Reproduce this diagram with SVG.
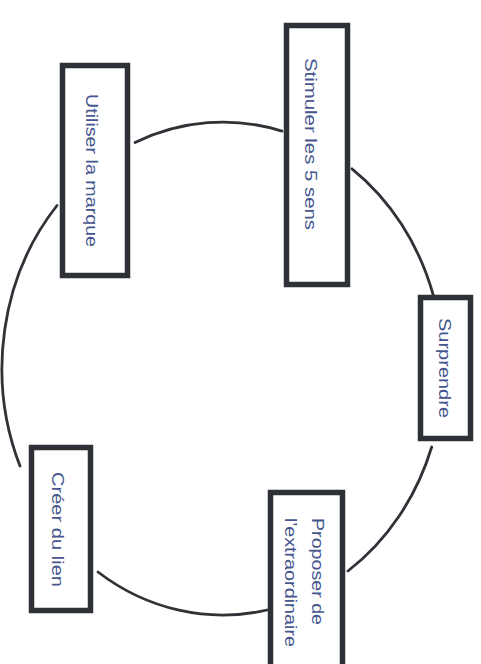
<svg xmlns="http://www.w3.org/2000/svg" width="481" height="664" viewBox="0 0 481 664">
<style>
.box{fill:#fff;stroke:#2e3136;stroke-width:5.5}
.lbl{font-family:"Liberation Sans",Arial,sans-serif;font-size:16px;fill:#46568e}
.arc{fill:none;stroke:#2f3237;stroke-width:2.8;stroke-linecap:round}
</style>
<rect width="481" height="664" fill="#fff"/>
<g id="connectors">
<path class="arc" d="M135,142.5 A220.6,246.5 0 0,1 282,131.1"/>
<path class="arc" d="M352,168.8 A220.6,246.5 0 0,1 433.2,295"/>
<path class="arc" d="M431.7,447 A220.6,246.5 0 0,1 348,571"/>
<path class="arc" d="M267,610 A220.6,246.5 0 0,1 98,572"/>
<path class="arc" d="M20,466 A220.6,246.5 0 0,1 57,205.5"/>
</g>
<g id="node-utiliser">
<rect class="box" x="62.5" y="65.5" width="65" height="210"/>
<text class="lbl" transform="translate(86,94) rotate(90)" textLength="153" lengthAdjust="spacingAndGlyphs">Utiliser la marque</text>
</g>
<g id="node-stimuler">
<rect class="box" x="286.5" y="25.5" width="61" height="259"/>
<text class="lbl" transform="translate(305,58) rotate(90)" textLength="172" lengthAdjust="spacingAndGlyphs">Stimuler les 5 sens</text>
</g>
<g id="node-surprendre">
<rect class="box" x="420.5" y="297.5" width="50" height="141"/>
<text class="lbl" transform="translate(439,318) rotate(90)" textLength="100" lengthAdjust="spacingAndGlyphs">Surprendre</text>
</g>
<g id="node-proposer">
<rect class="box" x="270.5" y="492.5" width="72" height="185"/>
<text class="lbl" transform="translate(312,518) rotate(90)" textLength="107" lengthAdjust="spacingAndGlyphs">Proposer de</text>
<text class="lbl" transform="translate(285,518) rotate(90)" textLength="129" lengthAdjust="spacingAndGlyphs">l'extraordinaire</text>
</g>
<g id="node-creer">
<rect class="box" x="31.5" y="447.5" width="59" height="163"/>
<text class="lbl" transform="translate(52,472) rotate(90)" textLength="115" lengthAdjust="spacingAndGlyphs">Créer du lien</text>
</g>
</svg>
